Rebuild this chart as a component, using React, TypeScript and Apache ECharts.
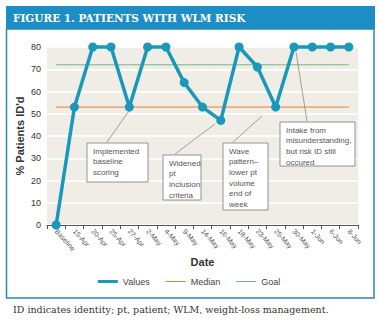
import React, { useEffect, useRef } from "react";
import * as echarts from "echarts";

const categories = [
  "Baseline", "15-Apr", "20-Apr", "25-Apr", "27-Apr", "2-May", "4-May", "9-May",
  "14-May", "16-May", "18-May", "23-May", "25-May", "30-May", "1-Jun", "6-Jun", "8-Jun",
];
const values = [0, 53, 80, 80, 53, 80, 80, 64, 53, 47, 80, 71, 53, 80, 80, 80, 80];
const MEDIAN = 53;
const GOAL = 72;
const medianLine = categories.map(() => MEDIAN);
const goalLine = categories.map(() => GOAL);

const titleText = "FIGURE 1. PATIENTS WITH WLM RISK";
const captionText = "ID indicates identity; pt, patient; WLM, weight-loss management.";
const notes = [
  "Implemented\nbaseline\nscoring",
  "Widened\npt\ninclusion\ncriteria",
  "Wave\npattern–\nlower pt\nvolume\nend of\nweek",
  "Intake from\nmisunderstanding,\nbut risk ID still\noccured",
];

const SANS = "'Liberation Sans', Arial, sans-serif";
const SERIF = "'DejaVu Serif', 'Liberation Serif', serif";

const VAL_COLOR = "#1a98ba";
const MED_COLOR = "#e8802c";
const GOAL_COLOR = "#74b87a";

function noteBox(text: string, x: number, y: number, w: number, h: number) {
  return {
    type: "group",
    children: [
      { type: "rect", shape: { x, y, width: w, height: h }, style: { fill: "#fff", stroke: "#7a7a7a", lineWidth: 0.8 }, z: 10 },
      {
        type: "text", x: x + 6, y: y + 3, z: 11,
        style: { text, fill: "#555", font: `8px ${SANS}`, lineHeight: 10.6, textVerticalAlign: "top" },
      },
    ],
  };
}

function leader(x1: number, y1: number, x2: number, y2: number) {
  return { type: "line", shape: { x1, y1, x2, y2 }, style: { stroke: "#8a8a8a", lineWidth: 0.8 }, z: 9 };
}

export default function App() {
  const ref = useRef<HTMLDivElement>(null);
  useEffect(() => {
    if (!ref.current) return;
    const chart = echarts.init(ref.current, undefined, { renderer: "svg" });
    chart.setOption({
      animation: false,
      backgroundColor: "#fff",
      grid: { left: 47, top: 47, width: 311, height: 178, show: true, backgroundColor: "#f0ede7", borderWidth: 0 },
      legend: {
        bottom: 30, left: "center", itemWidth: 20, itemHeight: 8, itemGap: 16,
        textStyle: { fontSize: 9, color: "#444", fontFamily: SANS },
        data: [
          { name: "Values", icon: "path://M0,0L20,0L20,3L0,3Z", itemStyle: { color: VAL_COLOR } },
          { name: "Median", icon: "path://M0,0L20,0L20,1L0,1Z", itemStyle: { color: MED_COLOR } },
          { name: "Goal", icon: "path://M0,0L20,0L20,1L0,1Z", itemStyle: { color: GOAL_COLOR } },
        ],
      },
      xAxis: {
        type: "category", data: categories, boundaryGap: true,
        name: "Date", nameLocation: "middle", nameGap: 31, nameMoveOverlap: false,
        nameTextStyle: { fontSize: 11, fontWeight: "bold", color: "#333", fontFamily: SANS },
        axisLine: { lineStyle: { color: "#555", width: 1 } },
        axisTick: { show: true, length: 4, lineStyle: { color: "#555" } },
        axisLabel: { rotate: -48, fontSize: 7, color: "#555", fontFamily: SANS, margin: 5, interval: 0 },
      },
      yAxis: {
        type: "value", min: 0, max: 80, interval: 10,
        name: "% Patients ID'd", nameLocation: "middle", nameGap: 22, nameRotate: 90, nameMoveOverlap: false,
        nameTextStyle: { fontSize: 11, fontWeight: "bold", color: "#333", fontFamily: SANS },
        axisLine: { show: false }, axisTick: { show: false },
        axisLabel: { fontSize: 9, color: "#333", fontFamily: SANS, margin: 6 },
        splitLine: { lineStyle: { color: "#ffffff", width: 1.5 } },
      },
      series: [
        {
          name: "Median", type: "line", data: medianLine, symbol: "none",
          lineStyle: { color: MED_COLOR, width: 1 }, itemStyle: { color: MED_COLOR }, z: 2,
        },
        {
          name: "Goal", type: "line", data: goalLine, symbol: "none",
          lineStyle: { color: GOAL_COLOR, width: 1 }, itemStyle: { color: GOAL_COLOR }, z: 2,
        },
        {
          name: "Values", type: "line", data: values, symbol: "circle", symbolSize: 9, clip: false,
          lineStyle: { color: VAL_COLOR, width: 3.5 }, itemStyle: { color: VAL_COLOR }, z: 5,
        },
      ],
      graphic: [
        { type: "rect", shape: { x: 6, y: 6, width: 369, height: 23 }, style: { fill: "#1d8dc5" }, z: 1 },
        {
          type: "rect", shape: { x: 6.5, y: 29, width: 367.5, height: 269 },
          style: { fill: "none", stroke: "#2a8bb0", lineWidth: 1.5 }, z: 1,
        },
        {
          type: "text", x: 13, y: 18, z: 2,
          style: { text: titleText, fill: "#fff", font: `bold 10.5px ${SERIF}`, textVerticalAlign: "middle" },
        },
        {
          type: "text", x: 13, y: 309, z: 2,
          style: { text: captionText, fill: "#333", font: `9.5px ${SERIF}`, textVerticalAlign: "middle" },
        },
        leader(107, 142, 129, 111),
        leader(175, 154, 215, 124),
        leader(233, 142, 262, 116),
        leader(307, 121, 296, 52),
        noteBox(notes[0], 87, 143, 61, 39),
        noteBox(notes[1], 163, 155, 38, 45),
        noteBox(notes[2], 223, 143, 45, 67),
        noteBox(notes[3], 280, 122, 75, 44),
      ],
    });
    return () => chart.dispose();
  }, []);
  return <div ref={ref} style={{ position: "fixed", left: 0, top: 0, width: 378, height: 321 }} />;
}
